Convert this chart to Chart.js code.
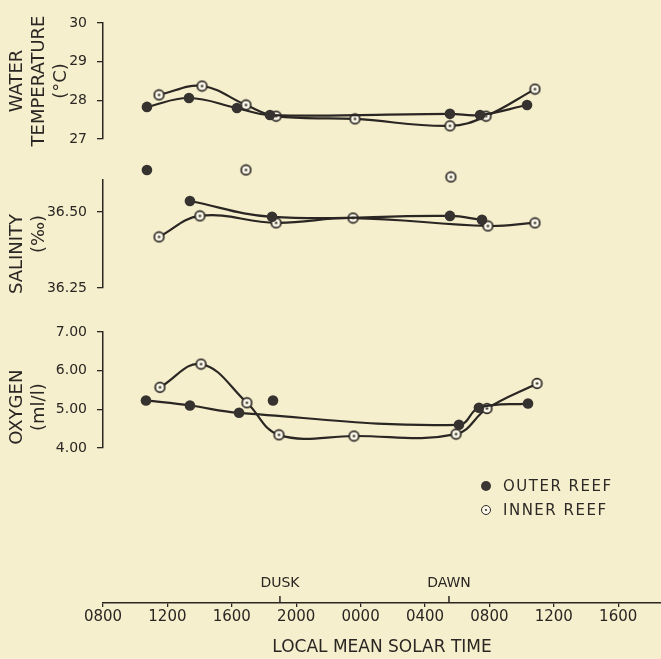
<!DOCTYPE html>
<html>
<head>
<meta charset="utf-8">
<script src="https://cdn.jsdelivr.net/npm/chart.js@4.4.1/dist/chart.umd.min.js"></script>
<style>
  html, body { margin: 0; padding: 0; background: #f6efcd; }
  #wrap { position: relative; width: 661px; height: 659px; }
  #legend { position: absolute; left: 481px; top: 474px; font-family: 'DejaVu Sans'; font-size: 15px; color: #2d2926; letter-spacing: 1.5px; }
  .row { display: flex; align-items: center; height: 24px; }
  .mk { width: 10px; height: 10px; border-radius: 50%; margin-right: 12px; box-sizing: border-box; position: relative; }
  .mk.outer { background: #3a3633; }
  .mk.inner { border: 1.6px solid #2d2926; background: #fbf8ea; }
  .mk.inner::after { content: ''; position: absolute; left: 50%; top: 50%; width: 2.4px; height: 2.4px; margin: -1.2px 0 0 -1.2px; border-radius: 50%; background: #2d2926; }
</style>
</head>
<body>
<div id="wrap">
  <canvas id="reefChart" width="661" height="659"></canvas>
  <div id="legend"></div>
</div>
<script>
// x axis: hours since midnight of day one (32 = 0800 next day)
const tickHours = [8, 12, 16, 20, 24, 28, 32, 36, 40];
const tickLabels = ['0800', '1200', '1600', '2000', '0000', '0400', '0800', '1200', '1600'];

const tempTicks = [27, 28, 29, 30];
const tempTickLabels = ['27', '28', '29', '30'];
const salTicks = [36.25, 36.5];
const salTickLabels = ['36.25', '36.50'];
const oxyTicks = [4, 5, 6, 7];
const oxyTickLabels = ['4.00', '5.00', '6.00', '7.00'];

const seriesNames = ['OUTER REEF', 'INNER REEF'];

// water temperature (°C)
const outerTempHours = [10.73, 13.34, 16.32, 18.37, 29.55, 31.42, 34.34];
const outerTemp = [27.83, 28.06, 27.80, 27.62, 27.65, 27.62, 27.88];
const innerTempHours = [11.48, 14.15, 16.88, 18.75, 23.65, 29.55, 31.79, 34.83];
const innerTemp = [28.14, 28.37, 27.88, 27.59, 27.52, 27.34, 27.59, 28.29];

// salinity (‰)
const outerSalHours = [13.40, 18.50, 29.55, 31.54];
const outerSal = [36.536, 36.484, 36.487, 36.474];
const innerSalHours = [11.48, 14.02, 18.75, 23.53, 31.91, 34.83];
const innerSal = [36.418, 36.487, 36.464, 36.480, 36.454, 36.464];
// unconnected salinity readings
const outerSalOffHours = [10.73];
const outerSalOff = [36.638];
const innerSalOffHours = [16.88, 29.61];
const innerSalOff = [36.638, 36.615];

// oxygen (ml/l)
const outerOxyHours = [10.67, 13.40, 16.45, 30.11, 31.35, 34.40];
const outerOxy = [5.23, 5.10, 4.91, 4.60, 5.04, 5.15];
const outerOxyOffHours = [18.56];
const outerOxyOff = [5.23];
const innerOxyHours = [11.54, 14.09, 16.94, 18.93, 23.59, 29.93, 31.85, 34.96];
const innerOxy = [5.57, 6.17, 5.17, 4.34, 4.31, 4.36, 5.02, 5.67];

const eventNames = ['DUSK', 'DAWN'];
const eventHours = [18.99, 29.49];

const ink = '#2a2623';
const dot = '#36322f';
const font = 'DejaVu Sans';

function pts(hours, values) {
  return hours.map((h, i) => ({ x: h, y: values[i] }));
}

// open circle with a centre dot
function ringDot() {
  const c = document.createElement('canvas');
  c.width = 13; c.height = 13;
  const g = c.getContext('2d');
  g.beginPath(); g.arc(6.5, 6.5, 4.8, 0, Math.PI * 2);
  g.fillStyle = '#fbf8ea'; g.fill();
  g.lineWidth = 1.7; g.strokeStyle = ink; g.stroke();
  g.beginPath(); g.arc(6.5, 6.5, 1.2, 0, Math.PI * 2);
  g.fillStyle = ink; g.fill();
  return c;
}
const innerMark = ringDot();

function series(label, data, axis, isOuter, line) {
  return {
    label: label,
    data: data,
    yAxisID: axis,
    showLine: line,
    clip: false,
    borderColor: ink,
    borderWidth: 2.2,
    tension: 0.4,
    pointStyle: isOuter ? 'circle' : innerMark,
    pointRadius: 5.3,
    pointBackgroundColor: dot,
    pointBorderWidth: 0
  };
}

function panelAxis(ticks, labels, title, min, max, weight, stackWeight) {
  return {
    type: 'linear',
    position: 'left',
    stack: 'panels',
    stackWeight: stackWeight,
    weight: weight,
    min: min,
    max: max,
    afterBuildTicks: s => { s.ticks = ticks.map(v => ({ value: v })); },
    afterFit: s => { s.width = 103; },
    border: { display: true, color: ink, width: 1.5 },
    grid: { drawOnChartArea: false, drawTicks: true, tickLength: 6, color: ink, lineWidth: 1.3 },
    ticks: {
      color: ink,
      padding: 10,
      font: { family: font, size: 14 },
      callback: v => labels[ticks.indexOf(v)]
    },
    title: {
      display: true,
      text: title,
      color: ink,
      font: { family: font, size: 18, lineHeight: 1.2 },
      padding: { top: 7, bottom: 0 }
    }
  };
}

function spacer(weight, stackWeight) {
  return { type: 'linear', position: 'left', stack: 'panels', stackWeight: stackWeight, weight: weight, display: false };
}

// DUSK / DAWN marks above the time axis
const eventMarks = {
  id: 'eventMarks',
  afterDraw(chart) {
    const xs = chart.scales.x;
    const ctx = chart.ctx;
    ctx.save();
    ctx.strokeStyle = ink;
    ctx.fillStyle = ink;
    ctx.lineWidth = 1.5;
    ctx.font = '14px "' + font + '"';
    ctx.textAlign = 'center';
    ctx.textBaseline = 'middle';
    eventNames.forEach((name, i) => {
      const px = xs.getPixelForValue(eventHours[i]);
      ctx.beginPath();
      ctx.moveTo(px, xs.top);
      ctx.lineTo(px, xs.top - 7);
      ctx.stroke();
      ctx.fillText(name, px, xs.top - 20);
    });
    ctx.restore();
  }
};

new Chart(document.getElementById('reefChart'), {
  type: 'line',
  data: {
    datasets: [
      series(seriesNames[0], pts(outerTempHours, outerTemp), 'yTemp', true, true),
      series(seriesNames[1], pts(innerTempHours, innerTemp), 'yTemp', false, true),
      series(seriesNames[0], pts(outerSalHours, outerSal), 'ySal', true, true),
      series(seriesNames[1], pts(innerSalHours, innerSal), 'ySal', false, true),
      series(seriesNames[0], pts(outerSalOffHours, outerSalOff), 'ySal', true, false),
      series(seriesNames[1], pts(innerSalOffHours, innerSalOff), 'ySal', false, false),
      series(seriesNames[0], pts(outerOxyHours, outerOxy), 'yOxy', true, true),
      series(seriesNames[1], pts(innerOxyHours, innerOxy), 'yOxy', false, true),
      series(seriesNames[0], pts(outerOxyOffHours, outerOxyOff), 'yOxy', true, false)
    ]
  },
  options: {
    responsive: false,
    animation: false,
    layout: { autoPadding: false, padding: { top: 23, left: 0, right: 0, bottom: 0 } },
    plugins: {
      legend: { display: false },
      tooltip: { enabled: false }
    },
    scales: {
      x: {
        type: 'linear',
        position: 'bottom',
        min: 8,
        max: 42.66,
        afterBuildTicks: s => { s.ticks = tickHours.map(v => ({ value: v })); },
        afterFit: s => { s.height = 56; s.paddingRight = 0; },
        border: { display: true, color: ink, width: 1.5 },
        grid: { drawOnChartArea: false, drawTicks: true, tickLength: 4, color: ink, lineWidth: 1.3 },
        ticks: {
          color: ink,
          padding: 1,
          maxRotation: 0,
          autoSkip: false,
          font: { family: font, size: 15 },
          callback: v => tickLabels[tickHours.indexOf(v)]
        },
        title: {
          display: true,
          text: 'LOCAL MEAN SOLAR TIME',
          color: ink,
          font: { family: font, size: 17 },
          padding: { top: 0, bottom: 1 }
        }
      },
      yTemp: panelAxis(tempTicks, tempTickLabels, ['WATER', 'TEMPERATURE', '(°C)'], 27, 30, 6, 116),
      gapA: spacer(5, 41),
      ySal: panelAxis(salTicks, salTickLabels, ['SALINITY       ', '(‰)'], 36.25, 36.605, 4, 108),
      gapB: spacer(3, 44),
      yOxy: panelAxis(oxyTicks, oxyTickLabels, ['OXYGEN      ', '(ml/l)      '], 4, 7, 2, 116),
      gapC: spacer(1, 155)
    }
  },
  plugins: [eventMarks]
});

// legend
const legend = document.getElementById('legend');
seriesNames.forEach((name, i) => {
  const row = document.createElement('div');
  row.className = 'row';
  row.innerHTML = '<span class="mk ' + (i === 0 ? 'outer' : 'inner') + '"></span>' + name;
  legend.appendChild(row);
});
</script>
</body>
</html>
